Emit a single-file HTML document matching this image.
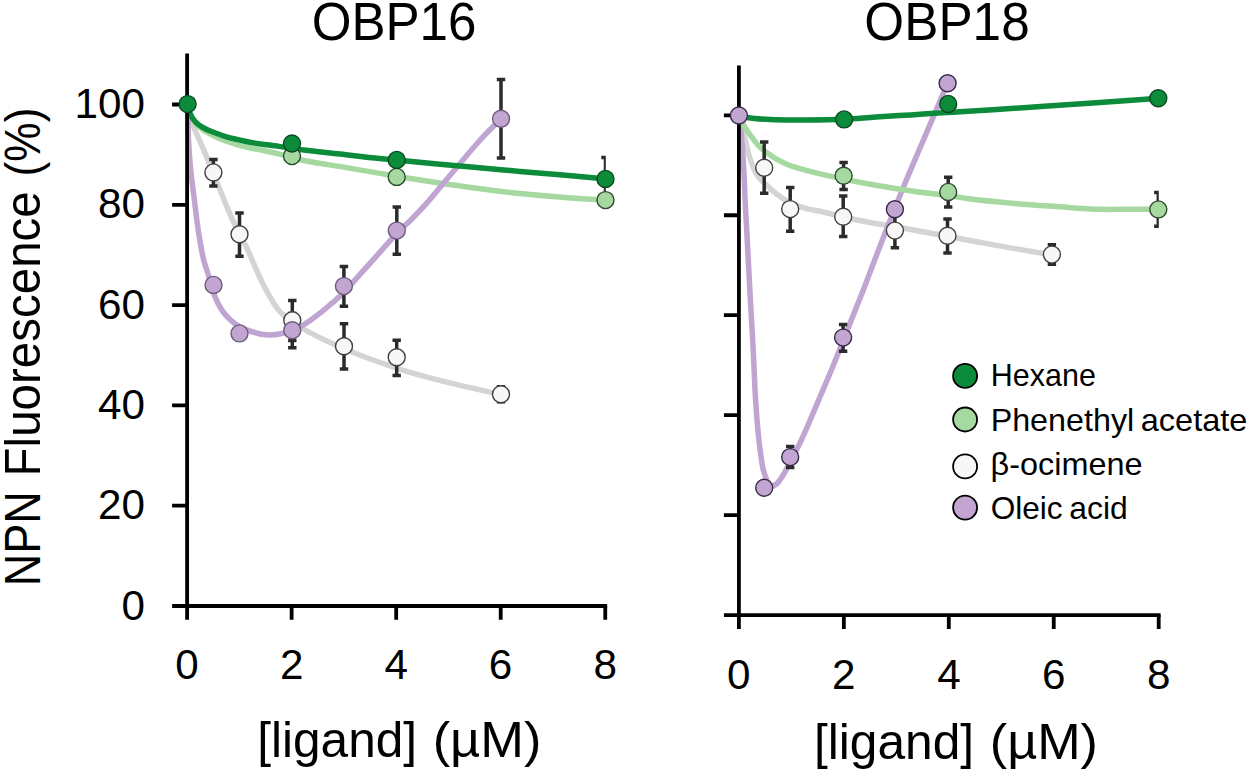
<!DOCTYPE html><html><head><meta charset="utf-8"><style>html,body{margin:0;padding:0;background:#fff;}svg{display:block;}text{font-family:"Liberation Sans",sans-serif;fill:#000;}</style></head><body>
<svg width="1250" height="772" viewBox="0 0 1250 772">
<rect width="1250" height="772" fill="#fff"/>
<defs><clipPath id="cl"><rect x="150" y="0" width="455.8" height="772"/></clipPath><clipPath id="cr"><rect x="700" y="0" width="458.8" height="772"/></clipPath></defs>
<text x="311.65" y="39.90" font-size="52.76" textLength="164.71" lengthAdjust="spacingAndGlyphs">OBP16</text>
<text x="864.34" y="39.90" font-size="52.76" textLength="165.33" lengthAdjust="spacingAndGlyphs">OBP18</text>
<text x="145.01" y="619.50" font-size="42.23" text-anchor="end">0</text>
<text x="145.02" y="519.20" font-size="42.23" text-anchor="end">20</text>
<text x="145.02" y="418.90" font-size="42.23" text-anchor="end">40</text>
<text x="145.02" y="318.60" font-size="42.23" text-anchor="end">60</text>
<text x="145.02" y="218.30" font-size="42.23" text-anchor="end">80</text>
<text x="145.02" y="118.00" font-size="42.23" text-anchor="end">100</text>
<text x="175.32" y="679.40" font-size="42.23">0</text>
<text x="279.90" y="679.40" font-size="42.23">2</text>
<text x="384.61" y="679.40" font-size="42.23">4</text>
<text x="488.85" y="679.40" font-size="42.23">6</text>
<text x="593.52" y="679.40" font-size="42.23">8</text>
<text x="727.12" y="688.80" font-size="42.23">0</text>
<text x="832.11" y="688.80" font-size="42.23">2</text>
<text x="937.23" y="688.80" font-size="42.23">4</text>
<text x="1041.88" y="688.80" font-size="42.23">6</text>
<text x="1146.96" y="688.80" font-size="42.23">8</text>
<text x="257.23" y="757.40" font-size="50.00" textLength="159.87" lengthAdjust="spacingAndGlyphs">[ligand]</text>
<text x="432.65" y="757.40" font-size="50.00" textLength="108.87" lengthAdjust="spacingAndGlyphs">(µM)</text>
<text x="814.03" y="758.60" font-size="50.00" textLength="160.08" lengthAdjust="spacingAndGlyphs">[ligand]</text>
<text x="989.77" y="758.60" font-size="50.00" textLength="108.23" lengthAdjust="spacingAndGlyphs">(µM)</text>
<text transform="translate(40.3,586.30) rotate(-90)" x="0" y="0" font-size="49.13" textLength="95.16" lengthAdjust="spacingAndGlyphs">NPN</text>
<text transform="translate(40.3,476.39) rotate(-90)" x="0" y="0" font-size="49.13" textLength="285.13" lengthAdjust="spacingAndGlyphs">Fluorescence</text>
<text transform="translate(40.3,176.44) rotate(-90)" x="0" y="0" font-size="49.13" textLength="68.84" lengthAdjust="spacingAndGlyphs">(%)</text>
<g clip-path="url(#cl)">
<path d="M187.50,104.10 C188.17,107.40 188.76,110.82 189.50,114.00 C190.20,117.00 190.70,119.54 191.80,122.70 C193.20,126.71 195.81,131.95 197.60,136.00 C199.10,139.41 200.26,141.83 201.80,145.40 C203.82,150.08 206.13,155.72 208.60,161.70 C211.60,168.99 214.89,177.23 218.50,186.00 C222.77,196.39 227.72,209.41 232.60,220.00 C237.02,229.61 241.59,237.18 246.30,247.00 C251.83,258.53 257.42,273.59 263.50,285.00 C268.80,294.96 273.47,304.67 280.20,312.00 C286.38,318.74 293.41,322.89 301.70,328.00 C311.70,334.16 324.85,340.21 336.60,345.50 C348.15,350.69 359.60,355.10 371.60,359.50 C384.04,364.06 396.85,368.37 410.00,372.30 C423.62,376.37 437.43,379.83 452.00,383.40 C467.67,387.24 484.67,390.80 501.00,394.50" stroke="#d4d4d4" stroke-width="5.5" fill="none" stroke-linecap="round" stroke-linejoin="round"/>
<path d="M187.50,104.10 C188.10,106.73 188.25,109.20 189.30,112.00 C190.64,115.56 192.76,120.25 195.50,123.50 C198.23,126.74 202.18,129.21 205.70,131.50 C209.06,133.68 212.59,135.37 216.10,137.00 C219.53,138.59 223.02,139.92 226.50,141.20 C229.92,142.45 233.13,143.52 236.80,144.60 C240.91,145.81 245.44,146.99 250.00,148.00 C254.82,149.07 259.66,149.66 265.00,150.80 C271.20,152.12 278.34,153.95 285.00,155.60 C291.67,157.25 297.15,159.04 305.00,160.70 C316.01,163.02 332.11,165.22 345.00,167.40 C357.06,169.44 366.13,171.11 380.00,173.40 C400.29,176.75 430.87,181.85 455.00,185.30 C477.42,188.51 499.61,191.42 520.00,193.60 C538.04,195.53 555.74,196.87 571.10,198.00 C583.69,198.93 594.03,199.40 605.50,200.10" stroke="#a5d9a0" stroke-width="5.5" fill="none" stroke-linecap="round" stroke-linejoin="round"/>
<path d="M187.50,104.10 C187.67,109.40 187.84,114.40 188.00,120.00 C188.18,126.28 188.14,132.66 188.50,140.00 C188.94,148.99 189.72,160.01 190.70,170.00 C191.68,180.01 193.15,190.00 194.40,200.00 C195.65,210.00 196.65,220.02 198.20,230.00 C199.75,240.02 201.91,252.72 203.70,260.00 C204.75,264.27 205.67,266.33 206.80,270.00 C208.19,274.49 210.03,280.43 211.40,285.00 C212.55,288.84 213.03,291.87 214.50,295.60 C216.27,300.09 218.91,305.72 221.70,309.90 C224.22,313.68 227.06,316.92 230.20,319.80 C233.25,322.60 236.52,325.00 240.20,327.00 C244.08,329.11 248.66,330.70 253.00,332.00 C257.27,333.28 261.51,334.48 266.00,334.80 C270.73,335.14 276.15,334.78 280.70,333.80 C284.86,332.91 288.59,330.92 292.30,329.50 C295.74,328.19 299.04,327.25 302.20,325.60 C305.44,323.90 308.34,321.62 311.50,319.40 C314.90,317.01 318.48,314.42 321.90,311.70 C325.42,308.90 329.15,305.50 332.30,302.80 C334.92,300.55 336.77,299.22 339.50,296.60 C343.59,292.68 349.71,285.77 354.00,281.10 C357.49,277.31 360.06,274.42 363.40,270.70 C367.25,266.41 371.12,262.02 375.80,256.80 C381.88,250.02 390.28,240.25 396.80,233.50 C402.12,227.99 406.81,224.06 411.80,219.00 C417.01,213.71 422.77,207.59 427.40,202.40 C431.31,198.02 433.23,195.52 437.90,190.00 C447.28,178.92 468.37,152.98 480.20,140.00 C488.16,131.26 494.07,125.87 501.00,118.80" stroke="#c0a4d2" stroke-width="5.5" fill="none" stroke-linecap="round" stroke-linejoin="round"/>
<path d="M187.50,104.10 C188.03,106.53 188.08,108.84 189.10,111.40 C190.40,114.66 192.67,118.88 195.40,121.80 C198.18,124.77 202.15,127.07 205.70,129.00 C209.06,130.82 212.62,131.89 216.10,133.20 C219.55,134.49 223.02,135.76 226.50,136.80 C229.92,137.82 233.15,138.54 236.80,139.40 C240.92,140.37 244.73,141.35 250.00,142.30 C257.73,143.70 269.52,145.08 278.80,146.40 C287.48,147.64 294.84,148.84 304.00,150.00 C314.92,151.39 328.07,152.64 340.00,154.00 C351.80,155.34 363.81,156.89 375.20,158.10 C385.91,159.24 395.81,160.10 406.40,161.10 C417.39,162.14 428.55,163.14 440.00,164.20 C451.99,165.31 464.04,166.45 476.80,167.60 C490.62,168.85 505.88,170.20 520.00,171.40 C533.59,172.56 546.24,173.50 560.00,174.70 C574.68,175.98 590.33,177.50 605.50,178.90" stroke="#0c8b3a" stroke-width="5.5" fill="none" stroke-linecap="round" stroke-linejoin="round"/>
</g>
<g clip-path="url(#cr)">
<path d="M738.90,115.40 C740.27,120.27 741.74,125.15 743.00,130.00 C744.24,134.78 745.23,139.55 746.40,144.30 C747.57,149.05 748.61,154.06 750.00,158.50 C751.27,162.55 752.72,166.59 754.30,169.90 C755.60,172.64 756.59,174.64 758.50,177.10 C760.98,180.30 765.23,184.02 768.50,187.00 C771.42,189.66 774.08,191.87 777.10,194.20 C780.26,196.64 783.67,199.37 787.10,201.30 C790.32,203.11 793.55,204.32 797.00,205.60 C800.63,206.94 804.56,208.15 808.40,209.10 C812.22,210.05 815.35,210.29 820.00,211.30 C827.09,212.83 838.08,215.88 846.70,217.80 C854.71,219.58 862.12,221.06 870.00,222.50 C878.05,223.97 885.19,224.88 894.50,226.50 C906.90,228.66 922.72,231.71 937.80,234.50 C954.29,237.55 972.16,240.96 989.60,244.10 C1007.36,247.30 1033.19,251.95 1043.40,253.50 C1047.45,254.11 1049.07,254.23 1051.90,254.60" stroke="#d4d4d4" stroke-width="5.5" fill="none" stroke-linecap="round" stroke-linejoin="round"/>
<path d="M738.90,115.40 C739.47,119.60 740.06,123.21 740.60,128.00 C741.31,134.31 742.02,142.09 742.60,150.00 C743.28,159.22 743.87,171.01 744.30,180.00 C744.65,187.34 744.76,192.66 745.10,200.00 C745.52,208.99 746.06,217.91 746.70,230.00 C747.68,248.46 749.24,278.63 750.40,300.00 C751.38,318.07 752.33,333.33 753.20,350.00 C754.07,366.66 754.57,384.27 755.60,400.00 C756.52,414.08 757.82,429.78 758.90,440.00 C759.57,446.38 760.16,450.47 760.90,455.50 C761.60,460.29 762.18,465.33 763.20,469.50 C764.05,472.98 765.26,476.05 766.30,478.90 C767.19,481.34 767.79,484.56 769.00,485.60 C769.72,486.22 770.54,486.29 771.50,486.20 C772.90,486.07 774.87,485.31 776.50,484.00 C778.90,482.08 781.31,478.01 783.50,474.50 C785.94,470.59 787.89,466.09 790.30,461.50 C793.02,456.33 796.02,451.12 799.00,445.00 C802.61,437.58 806.56,428.35 810.20,420.00 C813.82,411.68 817.27,403.33 820.80,395.00 C824.33,386.67 827.79,378.73 831.40,370.00 C835.34,360.47 839.51,350.01 843.50,340.00 C847.48,330.01 851.74,318.99 855.30,310.00 C858.21,302.66 860.25,297.83 863.30,290.00 C867.60,278.97 873.59,262.68 878.50,250.00 C882.97,238.46 887.09,228.12 891.50,217.00 C896.02,205.62 900.34,194.50 905.30,182.50 C910.76,169.28 917.12,154.79 923.00,141.00 C928.85,127.29 935.96,110.65 940.50,100.00 C943.39,93.21 945.23,88.87 947.60,83.30" stroke="#c0a4d2" stroke-width="5.5" fill="none" stroke-linecap="round" stroke-linejoin="round"/>
<path d="M738.90,115.40 C740.60,118.83 742.04,122.31 744.00,125.70 C746.05,129.25 748.60,132.90 751.00,136.20 C753.27,139.31 755.56,142.37 758.00,145.00 C760.25,147.42 761.91,149.17 765.00,151.50 C769.83,155.14 778.66,160.65 785.00,163.60 C790.22,166.03 794.10,166.97 800.00,168.70 C808.24,171.11 819.26,173.67 830.00,176.10 C842.35,178.89 857.60,182.02 870.00,184.30 C880.70,186.27 890.73,187.74 900.00,189.20 C908.01,190.46 914.66,191.58 922.40,192.60 C930.69,193.69 940.27,194.43 948.20,195.50 C955.03,196.42 959.51,197.48 967.20,198.50 C978.96,200.06 997.06,201.95 1012.00,203.30 C1026.92,204.65 1042.00,205.59 1056.80,206.60 C1071.33,207.59 1086.90,208.91 1100.00,209.30 C1110.90,209.62 1120.15,209.18 1130.00,209.20 C1139.57,209.22 1148.87,209.33 1158.30,209.40" stroke="#a5d9a0" stroke-width="5.5" fill="none" stroke-linecap="round" stroke-linejoin="round"/>
<path d="M738.90,115.40 C741.70,116.10 743.78,116.90 747.30,117.50 C753.03,118.47 761.74,119.16 770.20,119.60 C780.67,120.14 793.39,120.04 805.40,120.00 C817.99,119.96 831.85,119.85 844.10,119.30 C855.20,118.80 864.95,117.72 875.80,117.00 C887.22,116.24 899.27,115.63 911.00,114.90 C922.73,114.17 937.16,113.16 946.20,112.60 C951.86,112.25 954.21,112.16 960.00,111.80 C969.87,111.19 986.06,110.10 1000.00,109.20 C1015.27,108.21 1031.68,107.18 1048.00,106.10 C1064.99,104.98 1082.17,103.87 1100.00,102.60 C1118.88,101.25 1138.87,99.67 1158.30,98.20" stroke="#0c8b3a" stroke-width="5.5" fill="none" stroke-linecap="round" stroke-linejoin="round"/>
</g>
<path d="M187.10,53.50V607.90M172.10,606.00H607.16" stroke="#000" stroke-width="3.8" fill="none"/>
<path d="M172.10,505.70H187.10M172.10,405.40H187.10M172.10,305.10H187.10M172.10,204.80H187.10M172.10,104.50H187.10M187.10,606.00V619.80M291.64,606.00V619.80M396.18,606.00V619.80M500.72,606.00V619.80M605.26,606.00V619.80" stroke="#000" stroke-width="3.8" fill="none"/>
<path d="M738.90,65.50V617.00M723.90,615.10H1160.60" stroke="#000" stroke-width="3.8" fill="none"/>
<path d="M723.90,515.14H738.90M723.90,415.18H738.90M723.90,315.22H738.90M723.90,215.26H738.90M723.90,115.30H738.90M738.90,615.10V628.90M843.85,615.10V628.90M948.80,615.10V628.90M1053.75,615.10V628.90M1158.70,615.10V628.90" stroke="#000" stroke-width="3.8" fill="none"/>
<path d="M213.40,159.50V186.00M209.20,159.50H217.60M209.20,186.00H217.60M239.50,213.00V256.20M235.30,213.00H243.70M235.30,256.20H243.70M292.30,300.50V340.60M288.10,300.50H296.50M288.10,340.60H296.50M292.30,313.40V347.80M288.10,313.40H296.50M288.10,347.80H296.50M344.00,323.70V369.00M339.80,323.70H348.20M339.80,369.00H348.20M396.70,340.20V375.60M392.50,340.20H400.90M392.50,375.60H400.90M501.00,386.80V401.80M496.80,386.80H505.20M496.80,401.80H505.20M343.90,266.40V306.20M339.70,266.40H348.10M339.70,306.20H348.10M396.80,207.10V254.20M392.60,207.10H401.00M392.60,254.20H401.00M501.00,79.40V158.00M496.80,79.40H505.20M496.80,158.00H505.20M605.50,157.40V200.00M601.30,157.40H609.70M601.30,200.00H609.70" stroke="#2b2b2b" stroke-width="3.5" fill="none" clip-path="url(#cl)"/>
<circle cx="213.40" cy="172.40" r="8.5" fill="#f7f7f7" stroke="#404040" stroke-width="1.4"/>
<circle cx="239.50" cy="234.20" r="8.5" fill="#f7f7f7" stroke="#404040" stroke-width="1.4"/>
<circle cx="292.30" cy="320.20" r="8.5" fill="#f7f7f7" stroke="#404040" stroke-width="1.4"/>
<circle cx="344.00" cy="346.30" r="8.5" fill="#f7f7f7" stroke="#404040" stroke-width="1.4"/>
<circle cx="396.70" cy="357.20" r="8.5" fill="#f7f7f7" stroke="#404040" stroke-width="1.4"/>
<circle cx="501.00" cy="394.20" r="8.5" fill="#f7f7f7" stroke="#404040" stroke-width="1.4"/>
<circle cx="292.00" cy="156.10" r="8.5" fill="#a5d9a0" stroke="#2e4a2e" stroke-width="1.4"/>
<circle cx="396.70" cy="176.90" r="8.5" fill="#a5d9a0" stroke="#2e4a2e" stroke-width="1.4"/>
<circle cx="605.50" cy="200.10" r="8.5" fill="#a5d9a0" stroke="#2e4a2e" stroke-width="1.4"/>
<circle cx="213.50" cy="284.90" r="8.5" fill="#c2a5d1" stroke="#6c5c7e" stroke-width="1.4"/>
<circle cx="239.50" cy="333.40" r="8.5" fill="#c2a5d1" stroke="#6c5c7e" stroke-width="1.4"/>
<circle cx="292.30" cy="330.30" r="8.5" fill="#c2a5d1" stroke="#6c5c7e" stroke-width="1.4"/>
<circle cx="343.90" cy="286.10" r="8.5" fill="#c2a5d1" stroke="#6c5c7e" stroke-width="1.4"/>
<circle cx="396.80" cy="230.60" r="8.5" fill="#c2a5d1" stroke="#6c5c7e" stroke-width="1.4"/>
<circle cx="501.00" cy="118.80" r="8.5" fill="#c2a5d1" stroke="#6c5c7e" stroke-width="1.4"/>
<circle cx="187.60" cy="104.10" r="8.5" fill="#0c8b3a" stroke="#0a4a20" stroke-width="1.4"/>
<circle cx="292.00" cy="143.50" r="8.5" fill="#0c8b3a" stroke="#0a4a20" stroke-width="1.4"/>
<circle cx="396.70" cy="159.90" r="8.5" fill="#0c8b3a" stroke="#0a4a20" stroke-width="1.4"/>
<circle cx="605.50" cy="178.90" r="8.5" fill="#0c8b3a" stroke="#0a4a20" stroke-width="1.4"/>
<path d="M764.20,142.10V193.20M760.00,142.10H768.40M760.00,193.20H768.40M790.20,187.50V231.20M786.00,187.50H794.40M786.00,231.20H794.40M843.20,196.10V236.50M839.00,196.10H847.40M839.00,236.50H847.40M894.90,213.00V247.80M890.70,213.00H899.10M890.70,247.80H899.10M947.50,219.00V253.00M943.30,219.00H951.70M943.30,253.00H951.70M1051.90,244.80V264.20M1047.70,244.80H1056.10M1047.70,264.20H1056.10M843.60,162.50V189.40M839.40,162.50H847.80M839.40,189.40H847.80M948.20,177.30V207.10M944.00,177.30H952.40M944.00,207.10H952.40M1158.30,192.60V226.20M1154.10,192.60H1162.50M1154.10,226.20H1162.50M790.20,446.60V467.60M786.00,446.60H794.40M786.00,467.60H794.40M843.10,324.60V351.20M838.90,324.60H847.30M838.90,351.20H847.30" stroke="#2b2b2b" stroke-width="3.5" fill="none" clip-path="url(#cr)"/>
<circle cx="764.20" cy="167.80" r="8.5" fill="#f7f7f7" stroke="#404040" stroke-width="1.4"/>
<circle cx="790.20" cy="209.10" r="8.5" fill="#f7f7f7" stroke="#404040" stroke-width="1.4"/>
<circle cx="843.20" cy="216.70" r="8.5" fill="#f7f7f7" stroke="#404040" stroke-width="1.4"/>
<circle cx="894.90" cy="230.60" r="8.5" fill="#f7f7f7" stroke="#404040" stroke-width="1.4"/>
<circle cx="947.50" cy="235.80" r="8.5" fill="#f7f7f7" stroke="#404040" stroke-width="1.4"/>
<circle cx="1051.90" cy="254.60" r="8.5" fill="#f7f7f7" stroke="#404040" stroke-width="1.4"/>
<circle cx="843.60" cy="175.80" r="8.5" fill="#a5d9a0" stroke="#2e4a2e" stroke-width="1.4"/>
<circle cx="948.20" cy="191.90" r="8.5" fill="#a5d9a0" stroke="#2e4a2e" stroke-width="1.4"/>
<circle cx="1158.30" cy="209.40" r="8.5" fill="#a5d9a0" stroke="#2e4a2e" stroke-width="1.4"/>
<circle cx="844.10" cy="119.40" r="8.5" fill="#0c8b3a" stroke="#0a4a20" stroke-width="1.4"/>
<circle cx="948.20" cy="103.90" r="8.5" fill="#0c8b3a" stroke="#0a4a20" stroke-width="1.4"/>
<circle cx="1158.30" cy="98.20" r="8.5" fill="#0c8b3a" stroke="#0a4a20" stroke-width="1.4"/>
<circle cx="738.90" cy="115.50" r="8.5" fill="#c2a5d1" stroke="#3a2a4a" stroke-width="1.4"/>
<circle cx="764.20" cy="487.80" r="8.5" fill="#c2a5d1" stroke="#3a2a4a" stroke-width="1.4"/>
<circle cx="790.20" cy="457.10" r="8.5" fill="#c2a5d1" stroke="#3a2a4a" stroke-width="1.4"/>
<circle cx="843.10" cy="337.60" r="8.5" fill="#c2a5d1" stroke="#3a2a4a" stroke-width="1.4"/>
<circle cx="894.90" cy="209.20" r="8.5" fill="#c2a5d1" stroke="#3a2a4a" stroke-width="1.4"/>
<circle cx="947.60" cy="83.30" r="8.5" fill="#c2a5d1" stroke="#3a2a4a" stroke-width="1.4"/>
<circle cx="965.1" cy="375.9" r="12" fill="#0c8b3a" stroke="#000" stroke-width="1.8"/>
<text x="990.80" y="386.00" font-size="31.98" textLength="105.06" lengthAdjust="spacingAndGlyphs">Hexane</text>
<circle cx="965.1" cy="419.5" r="12" fill="#a5d9a0" stroke="#000" stroke-width="1.8"/>
<text x="990.65" y="430.70" font-size="31.98" textLength="143.57" lengthAdjust="spacingAndGlyphs">Phenethyl</text>
<text x="1140.74" y="430.70" font-size="31.98" textLength="106.61" lengthAdjust="spacingAndGlyphs">acetate</text>
<circle cx="965.1" cy="466.4" r="12" fill="#f7f7f7" stroke="#000" stroke-width="1.8"/>
<text x="990.63" y="474.50" font-size="31.98" textLength="152.00" lengthAdjust="spacingAndGlyphs">β-ocimene</text>
<circle cx="965.1" cy="507.7" r="12" fill="#c2a5d1" stroke="#000" stroke-width="1.8"/>
<text x="990.68" y="519.00" font-size="31.98" textLength="71.95" lengthAdjust="spacingAndGlyphs">Oleic</text>
<text x="1069.36" y="519.00" font-size="31.98" textLength="58.49" lengthAdjust="spacingAndGlyphs">acid</text>
</svg></body></html>
